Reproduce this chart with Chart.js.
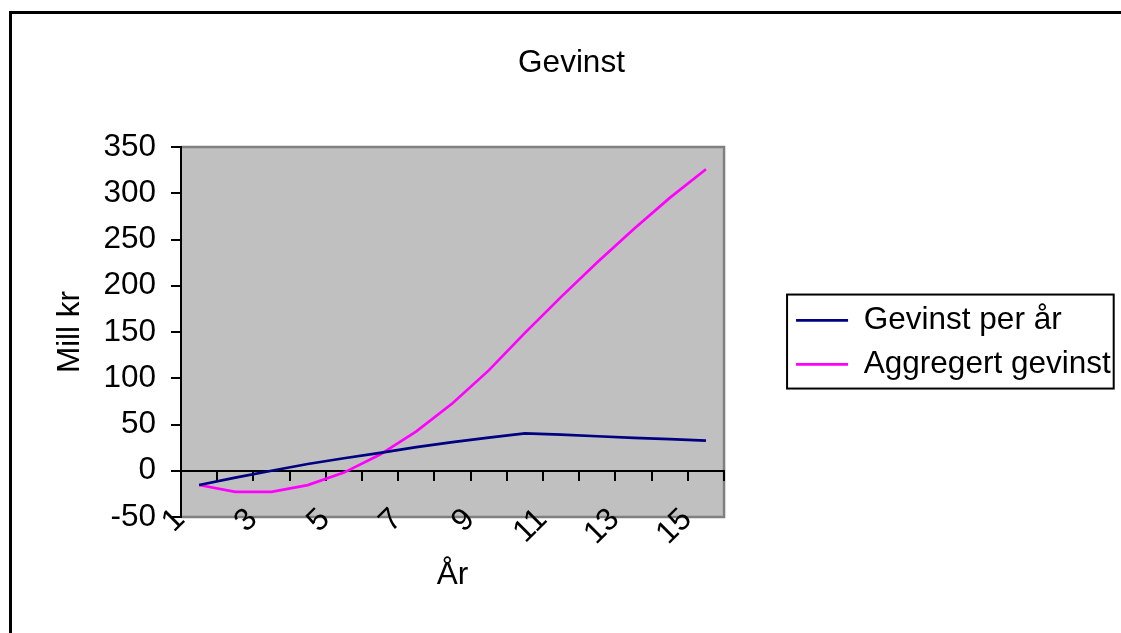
<!DOCTYPE html>
<html>
<head>
<meta charset="utf-8">
<script src="https://cdn.jsdelivr.net/npm/chart.js@4/dist/chart.umd.min.js"></script>
<style>
  html, body { margin: 0; padding: 0; background: #fff; overflow: hidden; width: 1121px; height: 633px; }
  #frame { position: absolute; left: 9px; top: 11px; width: 1300px; height: 800px;
           border-left: 3px solid #000; border-top: 3px solid #000; box-sizing: border-box; }
  #c { position: absolute; left: 0; top: 0; }
</style>
</head>
<body>
<div id="frame"></div>
<canvas id="c" width="1143" height="633"></canvas>
<script>
// Years on the category axis
const years = ['1', '2', '3', '4', '5', '6', '7', '8', '9', '10', '11', '12', '13', '14', '15'];

// Profit per year (million NOK)
const gevinstPerAar = [-15.4, -7.5, 0, 7.3, 13.5, 19.4, 25.5, 31, 35.8, 40.5, 39, 37.3, 35.6, 34.2, 32.5];

// Accumulated profit (million NOK)
const aggregertGevinst = [-15.4, -22.8, -22.8, -15.5, -2, 17.5, 42.5, 73, 108.5, 149, 188, 225.3, 261, 295, 326];

// Value axis range
const yMin = -50;
const yMax = 350;
const yStep = 50;

const FONT = "'Liberation Sans', Arial, sans-serif";
const FS = 31.5;
Chart.defaults.font.family = FONT;
Chart.defaults.font.size = FS;
Chart.defaults.color = '#000';

// Room kept under the plot for the rotated year labels and the axis title
const X_AXIS_HEIGHT = 78;

// Grey plot area with a darker edge on top, right and bottom
const plotArea = {
  id: 'plotArea',
  beforeDraw(chart) {
    const { ctx, chartArea: a } = chart;
    ctx.save();
    ctx.fillStyle = '#C0C0C0';
    ctx.fillRect(a.left, a.top, a.right - a.left, a.bottom - a.top);
    ctx.strokeStyle = '#808080';
    ctx.lineWidth = 2.5;
    ctx.beginPath();
    ctx.moveTo(a.left, a.top);
    ctx.lineTo(a.right, a.top);
    ctx.lineTo(a.right, a.bottom);
    ctx.lineTo(a.left, a.bottom);
    ctx.stroke();
    ctx.restore();
  }
};

// Thin black frame around the legend entries
const legendFrame = {
  id: 'legendFrame',
  afterDraw(chart) {
    const boxes = chart.legend && chart.legend.legendHitBoxes;
    if (!boxes || !boxes.length) return;
    const left = Math.min(...boxes.map(b => b.left)) - 9;
    const right = Math.max(...boxes.map(b => b.left + b.width)) + 3;
    const top = Math.min(...boxes.map(b => b.top)) - 10;
    const bottom = Math.max(...boxes.map(b => b.top + b.height)) + 8.5;
    const ctx = chart.ctx;
    ctx.save();
    ctx.strokeStyle = '#000';
    ctx.lineWidth = 2;
    ctx.strokeRect(left, top, right - left, bottom - top);
    ctx.restore();
  }
};

new Chart(document.getElementById('c'), {
  type: 'line',
  data: {
    labels: years,
    datasets: [
      {
        label: 'Gevinst per år',
        data: gevinstPerAar,
        borderColor: '#000080',
        backgroundColor: '#000080',
        borderWidth: 2.7,
        pointRadius: 0,
        tension: 0,
        fill: false,
        xAxisID: 'x',
        yAxisID: 'y'
      },
      {
        label: 'Aggregert gevinst',
        data: aggregertGevinst,
        borderColor: '#FF00FF',
        backgroundColor: '#FF00FF',
        borderWidth: 2.7,
        pointRadius: 0,
        tension: 0,
        fill: false,
        xAxisID: 'x',
        yAxisID: 'y'
      }
    ]
  },
  options: {
    responsive: false,
    animation: false,
    devicePixelRatio: 1,
    layout: { padding: { left: 22.3, right: 22.3, top: 0, bottom: 38 + X_AXIS_HEIGHT } },
    plugins: {
      title: {
        display: true,
        text: 'Gevinst',
        color: '#000',
        font: { size: FS, weight: 'normal' },
        padding: { top: 44.6, bottom: 64.6 }
      },
      legend: {
        position: 'right',
        fullSize: false,
        maxWidth: 400,
        title: { display: true, text: '', font: { size: 10 }, padding: { top: 8.6, bottom: 0 } },
        labels: {
          usePointStyle: true,
          pointStyle: 'line',
          pointStyleWidth: 52,
          padding: 12.5,
          color: '#000',
          font: { size: FS }
        }
      },
      tooltip: { enabled: false }
    },
    scales: {
      x: {
        type: 'category',
        axis: 'x',
        position: { y: yMin },
        offset: true,
        grid: { display: false, drawTicks: false },
        border: { display: false },
        ticks: {
          autoSkip: false,
          minRotation: 45,
          maxRotation: 45,
          padding: -16,
          labelOffset: -19,
          color: '#000',
          font: { size: FS },
          callback: (v, i) => (i % 2 === 0 ? years[i] : '')
        },
        title: {
          display: true,
          text: 'År',
          color: '#000',
          font: { size: FS },
          padding: { top: 0, bottom: 1 }
        },
        afterFit(s) { s.height = X_AXIS_HEIGHT; }
      },
      x0: {
        type: 'category',
        axis: 'x',
        position: { y: 0 },
        offset: true,
        grid: {
          display: true,
          offset: true,
          drawOnChartArea: false,
          drawTicks: true,
          tickLength: 9,
          color: '#000',
          lineWidth: 2
        },
        border: { display: true, color: '#000', width: 2 },
        ticks: { display: false },
        afterFit(s) { s.height = 0; }
      },
      y: {
        type: 'linear',
        axis: 'y',
        position: 'left',
        min: yMin,
        max: yMax,
        ticks: { stepSize: yStep, padding: 15, color: '#000', font: { size: FS } },
        grid: {
          drawOnChartArea: false,
          drawTicks: true,
          tickLength: 10,
          color: '#000',
          lineWidth: 2
        },
        border: { display: true, color: '#000', width: 2 },
        title: {
          display: true,
          text: 'Mill kr',
          color: '#000',
          font: { size: FS },
          padding: { top: 28.8, bottom: 0 }
        },
        afterFit(s) { s.width = 158.7; }
      },
      gap: {
        type: 'linear',
        axis: 'y',
        position: 'right',
        display: true,
        grid: { display: false, drawTicks: false },
        border: { display: false },
        ticks: { display: false },
        afterFit(s) { s.width = 59.5; }
      }
    }
  },
  plugins: [plotArea, legendFrame]
});
</script>
</body>
</html>
